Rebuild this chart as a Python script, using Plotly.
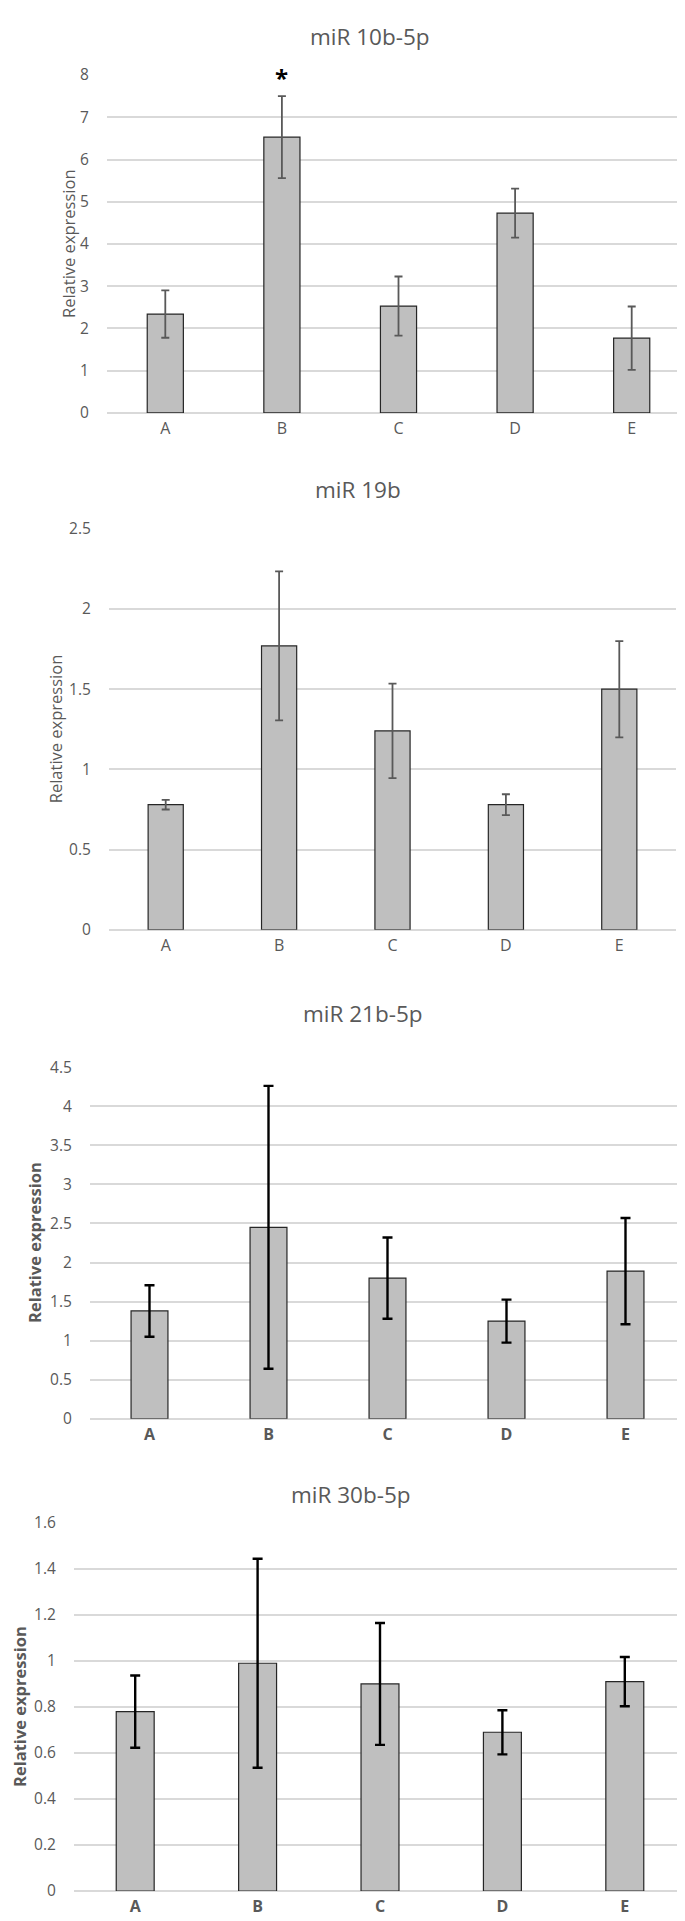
import plotly.graph_objects as go

categories = ["A", "B", "C", "D", "E"]

titles = ["miR 10b-5p", "miR 19b", "miR 21b-5p", "miR 30b-5p"]

mir10_values = [2.34, 6.53, 2.53, 4.73, 1.77]
mir10_errors = [0.56, 0.97, 0.70, 0.58, 0.75]

mir19_values = [0.78, 1.77, 1.24, 0.78, 1.50]
mir19_errors = [0.03, 0.465, 0.295, 0.065, 0.30]

mir21_values = [1.38, 2.45, 1.80, 1.25, 1.89]
mir21_errors = [0.33, 1.81, 0.52, 0.275, 0.68]

mir30_values = [0.78, 0.99, 0.90, 0.69, 0.91]
mir30_errors = [0.157, 0.454, 0.265, 0.096, 0.107]

y_ranges = [[0, 8], [0, 2.5], [0, 4.5], [0, 1.6]]
y_dticks = [1, 0.5, 0.5, 0.2]

W, H = 685, 1921
FONT = "Open Sans"
GRAY = "#595959"

values = [mir10_values, mir19_values, mir21_values, mir30_values]
errors = [mir10_errors, mir19_errors, mir21_errors, mir30_errors]

# pixel layout: (x0, x1, ytop, ybottom)
boxes = [(99, 682, 55.7, 397.5), (101, 668, 514.7, 920.3),
         (82, 677, 1059.3, 1415), (66, 678, 1520.3, 1892.7)]
title_xy = [(362, 17), (350, 475), (355, 1005), (343, 1492)]
ytitle_x = [60, 47, 27, 12]
bold_style = [False, False, True, True]

fig = go.Figure()
annotations = []
for i in range(4):
    x0, x1, yt, yb = boxes[i]
    xa = "x" if i == 0 else f"x{i+1}"
    ya = "y" if i == 0 else f"y{i+1}"
    bold = bold_style[i]
    err_color = "#000000" if bold else GRAY
    fig.add_trace(go.Bar(
        x=categories, y=values[i], xaxis=xa, yaxis=ya,
        marker=dict(color="#BFBFBF", line=dict(color="#262626", width=1.2)),
        width=0.31,
        error_y=dict(type="data", array=errors[i], visible=True,
                     color=err_color, thickness=2.4 if bold else 1.8,
                     width=5 if bold else 4),
        showlegend=False, hoverinfo="skip",
    ))
    xkey = "xaxis" if i == 0 else f"xaxis{i+1}"
    ykey = "yaxis" if i == 0 else f"yaxis{i+1}"
    fig.layout[xkey] = dict(
        domain=[x0 / W, x1 / W], anchor=ya, showgrid=False, showline=False,
        zeroline=False, ticks="outside", ticklen=1, tickcolor="rgba(0,0,0,0)",
        tickfont=dict(family=FONT, size=16, color=GRAY,
                      weight="bold" if bold else "normal"),
        fixedrange=True,
    )
    fig.layout[ykey] = dict(
        domain=[1 - yb / H, 1 - yt / H], anchor=xa, range=y_ranges[i],
        dtick=y_dticks[i], tick0=0, showgrid=True, gridcolor="#D9D9D9",
        gridwidth=1.5, zeroline=True, zerolinecolor="#D9D9D9", zerolinewidth=1.5,
        showline=False, ticks="outside", ticklen=14, tickcolor="rgba(0,0,0,0)",
        tickfont=dict(family=FONT, size=15.5, color=GRAY), fixedrange=True,
    )
    tx, ty = title_xy[i]
    annotations.append(dict(
        text=titles[i], xref="paper", yref="paper",
        x=tx / W, y=1 - ty / H, xanchor="center", yanchor="middle",
        showarrow=False, font=dict(family=FONT, size=22.5, color=GRAY)))
    annotations.append(dict(
        text="Relative expression", xref="paper", yref="paper",
        x=ytitle_x[i] / W, y=1 - ((yt + yb) / 2) / H, textangle=-90,
        xanchor="center", yanchor="middle", showarrow=False,
        font=dict(family=FONT, size=16.5, color=GRAY,
                  weight="bold" if bold else "normal")))

# significance marker on B of first panel
annotations.append(dict(
    text="*", xref="x", yref="y", x=categories[1],
    y=mir10_values[1] + mir10_errors[1], yanchor="bottom", yshift=0,
    showarrow=False, font=dict(family=FONT, size=24, color="#000000", weight="bold")))

fig.update_layout(
    width=W, height=H, margin=dict(l=0, r=0, t=0, b=0),
    paper_bgcolor="white", plot_bgcolor="white",
    annotations=annotations, bargap=0.69,
)

fig.write_html("out.html")
